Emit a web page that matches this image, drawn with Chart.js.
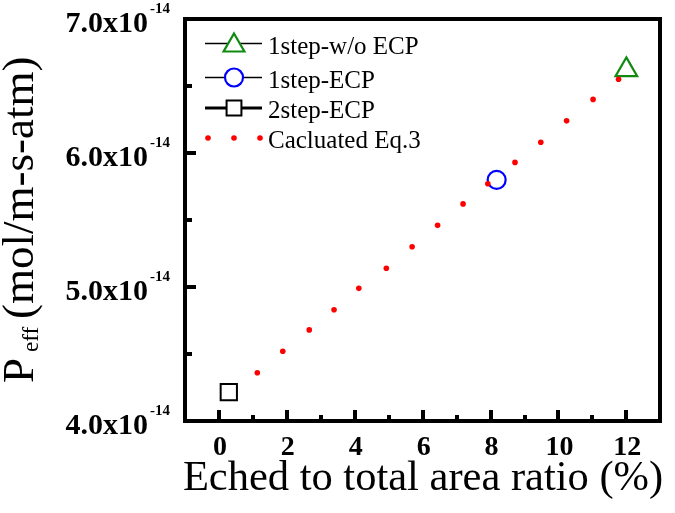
<!DOCTYPE html>
<html><head><meta charset="utf-8">
<script src="https://cdn.jsdelivr.net/npm/chart.js@4.4.0/dist/chart.umd.min.js"></script>
<style>html,body{margin:0;padding:0;background:#fff}</style>
</head><body>
<canvas id="c" width="675" height="513"></canvas>
<script>
// ---- data ----
const seriesNames = ['1step-w/o ECP', '1step-ECP', '2step-ECP', 'Cacluated Eq.3'];
const woEcpX = [12.0];
const woEcpY = [6.62];
const ecpX = [8.18];
const ecpY = [5.80];
const twoStepX = [0.29];
const twoStepY = [4.215];
const calcX = [1.13, 1.88, 2.66, 3.39, 4.12, 4.93, 5.69, 6.44, 7.19, 7.92, 8.72, 9.48, 10.24, 11.02, 11.77];
const calcY = [4.36, 4.52, 4.68, 4.83, 4.99, 5.14, 5.30, 5.46, 5.62, 5.77, 5.93, 6.08, 6.24, 6.40, 6.55];
const xTicks = [0, 2, 4, 6, 8, 10, 12];
const xMinor = [1, 3, 5, 7, 9, 11];
const yTicks = [4, 5, 6, 7];
const yMinor = [4.5, 5.5, 6.5];
const yTickLabels = ['4.0x10', '5.0x10', '6.0x10', '7.0x10'];
const yTickExp = '-14';
const xTitle = 'Eched to total area ratio (%)';
const yTitleMain = 'P';
const yTitleSub = 'eff';
const yTitleRest = '(mol/m-s-atm)';

const pts = (xs, ys) => xs.map((x, i) => ({x: x, y: ys[i]}));
const SERIF = '"Liberation Serif", "Times New Roman", serif';

const datasets = [
  {label: seriesNames[3], data: pts(calcX, calcY), pointStyle: 'circle', pointRadius: 2.8,
   backgroundColor: '#ff0000', borderColor: '#ff0000', borderWidth: 0, showLine: false},
  {label: seriesNames[0], data: pts(woEcpX, woEcpY), pointStyle: 'triangle', pointRadius: 12.5,
   backgroundColor: 'rgba(0,0,0,0)', borderColor: '#108a10', borderWidth: 2.2, showLine: false},
  {label: seriesNames[1], data: pts(ecpX, ecpY), pointStyle: 'circle', pointRadius: 9,
   backgroundColor: 'rgba(0,0,0,0)', borderColor: '#0000ff', borderWidth: 2.2, showLine: false},
  {label: seriesNames[2], data: pts(twoStepX, twoStepY), pointStyle: 'rect', pointRadius: 11.5,
   backgroundColor: 'rgba(0,0,0,0)', borderColor: '#000000', borderWidth: 2, showLine: false}
];

const decor = {
  id: 'decor',
  afterDraw(chart) {
    const ctx = chart.ctx;
    const a = chart.chartArea;
    const xs = chart.scales.x, ys = chart.scales.y;
    ctx.save();
    ctx.fillStyle = '#000';
    // frame as filled bars (4px)
    const L = Math.round(a.left), R = Math.round(a.right), T = Math.round(a.top), B = Math.round(a.bottom);
    ctx.fillRect(L - 2, T - 2, R - L + 4, 4);
    ctx.fillRect(L - 2, B - 2, R - L + 4, 4);
    ctx.fillRect(L - 2, T - 2, 4, B - T + 4);
    ctx.fillRect(R - 2, T - 2, 4, B - T + 4);
    // ticks (inward)
    xTicks.forEach(v => { const px = Math.round(xs.getPixelForValue(v)); ctx.fillRect(px - 2, B - 11, 4, 11); });
    xMinor.forEach(v => { const px = Math.round(xs.getPixelForValue(v)); ctx.fillRect(px - 2, B - 6, 4, 6); });
    yTicks.forEach(v => { const py = Math.round(ys.getPixelForValue(v)); ctx.fillRect(L, py - 2, 11, 4); });
    yMinor.forEach(v => { const py = Math.round(ys.getPixelForValue(v)); ctx.fillRect(L, py - 2, 7, 4); });
    // x tick labels
    ctx.font = 'bold 28px ' + SERIF;
    ctx.textAlign = 'center';
    ctx.textBaseline = 'alphabetic';
    xTicks.forEach(v => { ctx.fillText(String(v), xs.getPixelForValue(v) + 1, B + 34); });
    // y tick labels with superscript
    yTicks.forEach((v, i) => {
      const py = ys.getPixelForValue(v);
      ctx.font = 'bold 30px ' + SERIF;
      ctx.textAlign = 'right';
      ctx.fillText(yTickLabels[i], 148, py + 13);
      ctx.font = 'bold 15px ' + SERIF;
      ctx.textAlign = 'left';
      ctx.fillText(yTickExp, 150, py - 6);
    });
    // x title
    ctx.font = '42.5px ' + SERIF;
    ctx.textAlign = 'center';
    ctx.fillText(xTitle, 423, 490);
    // y title (rotated)
    ctx.save();
    ctx.translate(33, 383);
    ctx.rotate(-Math.PI / 2);
    ctx.textAlign = 'left';
    ctx.font = '45px ' + SERIF;
    ctx.fillText(yTitleMain, 0, 0);
    ctx.font = '23px ' + SERIF;
    ctx.fillText(yTitleSub, 31, 5);
    ctx.font = '45px ' + SERIF;
    ctx.fillText(yTitleRest, 64, 0);
    ctx.restore();
    // legend
    const rows = [
      {ds: datasets[1], y: 43.5, lw: 1.5},
      {ds: datasets[2], y: 77.5, lw: 1.5},
      {ds: datasets[3], y: 108, lw: 3},
      {ds: datasets[0], y: 138, lw: 0}
    ];
    const lx0 = 205, lx1 = 262, lxc = 234;
    ctx.font = '25px ' + SERIF;
    ctx.textAlign = 'left';
    rows.forEach(r => {
      const ds = r.ds;
      if (r.lw > 0) {
        ctx.strokeStyle = '#000';
        ctx.lineWidth = r.lw;
        ctx.beginPath(); ctx.moveTo(lx0, r.y); ctx.lineTo(lx1, r.y); ctx.stroke();
        ctx.fillStyle = '#fff';
        ctx.strokeStyle = ds.borderColor;
        ctx.lineWidth = ds.borderWidth;
        let rad = ds.pointRadius;
        if (ds.pointStyle === 'triangle') rad = 12;
        if (ds.pointStyle === 'rect') rad = 10.5;
        Chart.helpers.drawPoint(ctx, {pointStyle: ds.pointStyle, radius: rad, rotation: 0, borderWidth: ds.borderWidth}, lxc, ds.pointStyle === 'triangle' ? r.y + 2 : r.y);
      } else {
        ctx.fillStyle = ds.backgroundColor;
        [208, 234, 260].forEach(x => { ctx.beginPath(); ctx.arc(x, r.y, 2.8, 0, Math.PI * 2); ctx.fill(); });
      }
      ctx.fillStyle = '#000';
      ctx.fillText(ds.label, 268, r.y + 10);
    });
    ctx.restore();
  }
};

new Chart(document.getElementById('c'), {
  type: 'scatter',
  data: {datasets: datasets},
  options: {
    responsive: false,
    animation: false,
    devicePixelRatio: 1,
    layout: {padding: {left: 185, right: 8, top: 19, bottom: 92}},
    plugins: {legend: {display: false}, tooltip: {enabled: false}},
    scales: {
      x: {type: 'linear', min: -1, max: 13, display: false},
      y: {type: 'linear', min: 4, max: 7, display: false}
    },
    clip: false
  },
  plugins: [decor]
});
</script>
</body></html>
